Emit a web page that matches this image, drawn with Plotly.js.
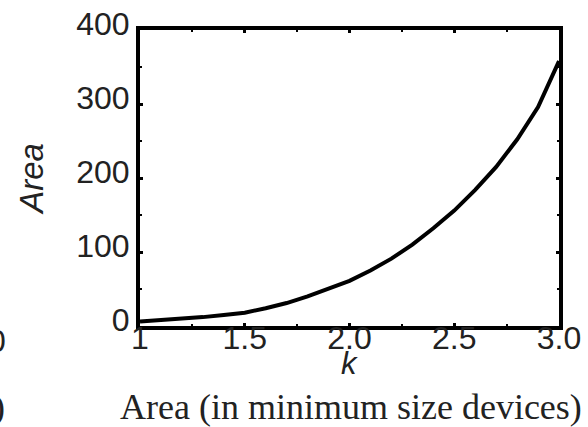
<!DOCTYPE html>
<html>
<head>
<meta charset="utf-8">
<script src="https://cdn.plot.ly/plotly-3.0.1.min.js"></script>
<style>
html,body{margin:0;padding:0;background:#fff;}
#chart{width:588px;height:427px;}
</style>
</head>
<body>
<div id="chart"></div>
<script>
// k values and corresponding area
var kValues = [1.0, 1.1, 1.2, 1.3, 1.4, 1.5, 1.6, 1.7, 1.8, 1.9, 2.0, 2.1, 2.2, 2.3, 2.4, 2.5, 2.6, 2.7, 2.8, 2.9, 3.0];
var areaValues = [6, 8, 9.5, 12, 15, 18, 24, 31, 40, 50, 61, 75, 91, 110, 132, 156, 184, 215, 252, 296, 358];
var xTickVals = [1, 1.5, 2, 2.5, 3];
var xTickText = ['1', '1.5', '2.0', '2.5', '3.0'];
var yTickVals = [0, 100, 200, 300, 400];
var yTickText = ['0', '100', '200', '300', '400'];

var sans = 'Liberation Sans, Arial, sans-serif';
var serif = 'Liberation Serif, Times New Roman, serif';

var trace = {
  x: kValues,
  y: areaValues,
  type: 'scatter',
  mode: 'lines',
  line: {color: '#000', width: 4},
  hoverinfo: 'skip'
};

var layout = {
  width: 588,
  height: 427,
  margin: {l: 140, r: 29, t: 30, b: 101},
  paper_bgcolor: '#fff',
  plot_bgcolor: '#fff',
  showlegend: false,
  xaxis: {
    range: [1, 3],
    tickvals: xTickVals,
    ticktext: xTickText,
    ticks: 'inside',
    ticklen: 3,
    tickwidth: 3,
    tickcolor: '#000',
    minor: {dtick: 0.25, ticks: 'inside', ticklen: 2, tickwidth: 2, tickcolor: '#000'},
    showline: true,
    linewidth: 4,
    linecolor: '#000',
    mirror: 'ticks',
    showgrid: false,
    zeroline: false,
    tickfont: {family: sans, size: 32, color: '#222'},
    ticklabelstandoff: -19
  },
  yaxis: {
    range: [0, 400],
    tickvals: yTickVals,
    ticktext: yTickText,
    ticks: 'inside',
    ticklen: 3,
    tickwidth: 3,
    tickcolor: '#000',
    minor: {dtick: 50, ticks: 'inside', ticklen: 2, tickwidth: 2, tickcolor: '#000'},
    showline: true,
    linewidth: 4,
    linecolor: '#000',
    mirror: 'ticks',
    showgrid: false,
    zeroline: false,
    tickfont: {family: sans, size: 32, color: '#222'},
    ticklabelshift: -6,
    title: {text: '<i>Area</i>', font: {family: sans, size: 33, color: '#222'}, standoff: 24}
  },
  annotations: [
    {text: '<i>k</i>', xref: 'paper', yref: 'paper', x: 0.5, y: -0.128,
     xanchor: 'center', yanchor: 'middle', showarrow: false,
     font: {family: sans, size: 31, color: '#222'}},
    {text: 'Area (in minimum size devices)', xref: 'paper', yref: 'paper', x: 1.06, y: -0.272,
     xanchor: 'right', yanchor: 'middle', showarrow: false,
     font: {family: serif, size: 36, color: '#222'}},
    {text: '0', xref: 'paper', yref: 'paper', x: -0.368, y: -0.05, xanchor: 'left', yanchor: 'middle',
     showarrow: false, font: {family: sans, size: 32, color: '#222'}},
    {text: ')', xref: 'paper', yref: 'paper', x: -0.355, y: -0.272, xanchor: 'left', yanchor: 'middle',
     showarrow: false, font: {family: serif, size: 36, color: '#222'}}
  ]
};

Plotly.newPlot('chart', [trace], layout, {displayModeBar: false, staticPlot: true});
</script>
</body>
</html>
